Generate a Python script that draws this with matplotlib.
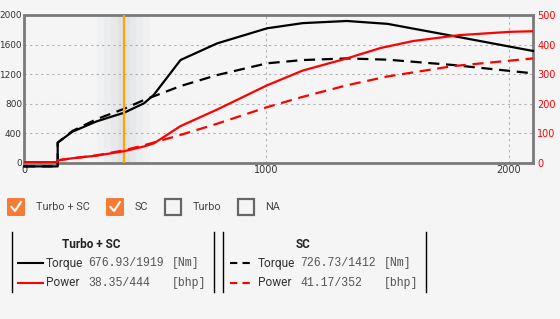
import matplotlib
matplotlib.use("Agg")
import matplotlib.pyplot as plt
from matplotlib.patches import Rectangle, FancyBboxPatch
from matplotlib.lines import Line2D

# ---- data ----
rpm_ts = [0, 139, 139, 200, 300, 413, 495, 535, 646, 797, 1003, 1150, 1332, 1500, 1770, 2100]
torque_ts = [-50, -50, 272, 420, 560, 677, 804, 917, 1391, 1616, 1820, 1890, 1919, 1880, 1716, 1513]
rpm_ts_p = [0, 139, 139, 200, 300, 413, 495, 537, 646, 797, 1003, 1150, 1332, 1470, 1606, 1798, 2004, 2100]
power_ts = [2, 2, 8, 15, 24, 39, 55, 66, 124, 180, 262, 312, 353, 388, 412, 432, 443, 445]

rpm_sc = [0, 139, 139, 200, 300, 413, 495, 646, 797, 1003, 1150, 1332, 1500, 1770, 2100]
torque_sc = [-50, -50, 272, 430, 590, 730, 849, 1038, 1187, 1346, 1390, 1412, 1395, 1323, 1210]
power_sc = [2, 2, 8, 15, 25, 42, 59, 94, 132, 188, 223, 262, 292, 327, 353]

x_ticks = [0, 1000, 2000]
torque_ticks = [0, 400, 800, 1200, 1600, 2000]
power_ticks = [0, 100, 200, 300, 400, 500]
cursor_rpm = 411

checkbox_labels = ["Turbo + SC", "SC", "Turbo", "NA"]
checkbox_checked = [True, True, False, False]

legend_groups = ["Turbo + SC", "SC"]
legend_torque = ["676.93/1919", "726.73/1412"]
legend_power = ["38.35/444", "41.17/352"]

BG = "#f5f5f5"
W, H = 560, 319
fig = plt.figure(figsize=(W / 100, H / 100), dpi=100, facecolor=BG)

def fx(px):
    return px / W

def fy(py):
    return 1 - py / H

ax = fig.add_axes([fx(24), fy(162.7), fx(533 - 24), (162.7 - 15) / H])
ax.set_facecolor(BG)
ax.set_xlim(0, 2100)
ax.set_ylim(0, 2000)
ax.set_xticks(x_ticks)
ax.set_yticks(torque_ticks)
ax.grid(True, color="#b0b0b0", linestyle=(0, (2, 3)), linewidth=0.8)
ax.tick_params(axis="y", labelsize=6.4, length=0, pad=1.5, colors="#333")
ax.tick_params(axis="x", labelsize=7, length=0, pad=2, colors="#333")
for s in ax.spines.values():
    s.set_color("#7a7a7a")
    s.set_linewidth(2)
ax.spines["left"].set_linestyle((0, (1, 1)))

# cursor shade
for w, a in [(110, 0.03), (80, 0.04), (50, 0.05), (25, 0.05)]:
    ax.axvspan(cursor_rpm - w, cursor_rpm + w, color="#8090a0", alpha=a, lw=0)

ax.plot(rpm_ts, torque_ts, color="black", lw=1.6, clip_on=False, zorder=3)
ax.plot(rpm_sc, torque_sc, color="black", lw=1.6, ls=(0, (5, 3)), clip_on=False, zorder=3)
ax.axvline(cursor_rpm, color="#FFA500", lw=1.6, zorder=4)

ax2 = ax.twinx()
ax2.set_ylim(0, 500)
ax2.set_yticks(power_ticks)
ax2.tick_params(labelsize=7, length=0, pad=3, colors="red")
for s in ax2.spines.values():
    s.set_visible(False)
ax2.plot(rpm_ts_p, power_ts, color="red", lw=1.6, zorder=3)
ax2.plot(rpm_sc, power_sc, color="red", lw=1.6, ls=(0, (5, 3)), zorder=3)

# ---- checkboxes ----
box_x = [7, 106, 164, 237]
text_x = [36, 135, 193, 265]
for bx, tx, lab, chk in zip(box_x, text_x, checkbox_labels, checkbox_checked):
    if chk:
        r = FancyBboxPatch((fx(bx), fy(216)), fx(18), 18 / H,
                           boxstyle="round,pad=0,rounding_size=0.003",
                           transform=fig.transFigure, facecolor="#F57C35",
                           edgecolor="#F57C35", lw=0)
        fig.patches.append(r)
        fig.lines.append(Line2D([fx(bx + 4.5), fx(bx + 8), fx(bx + 14)],
                                [fy(207), fy(211), fy(202)],
                                transform=fig.transFigure, color="white", lw=1.5))
    else:
        r = Rectangle((fx(bx + 1), fy(215)), fx(16), 16 / H,
                      transform=fig.transFigure, facecolor="none",
                      edgecolor="#666666", lw=1.6)
        fig.patches.append(r)
    fig.text(fx(tx), fy(207), lab, fontsize=7.8, family="Roboto",
             color="#444", va="center", ha="left")

# ---- legend boxes ----
for x0 in [12, 214, 223, 426]:
    fig.lines.append(Line2D([fx(x0), fx(x0)], [fy(232), fy(292)],
                            transform=fig.transFigure, color="black", lw=1.0))

offsets = [0, 212]
dash = [None, (0, (3.5, 2.5))]
for off, grp, tq, pw, d in zip(offsets, legend_groups, legend_torque, legend_power, dash):
    cx = 91 if off == 0 else 303
    fig.text(fx(cx), fy(244), grp, fontsize=8.5, family="Roboto", weight="bold",
             color="#222", ha="center", va="center")
    for yy, col, name, val, unit in [(263, "black", "Torque", tq, "[Nm]"),
                                     (283, "red", "Power", pw, "[bhp]")]:
        ln = Line2D([fx(18 + off), fx(43 + off)], [fy(yy), fy(yy)],
                    transform=fig.transFigure, color=col, lw=1.5)
        if d is not None:
            ln.set_linestyle(d)
        fig.lines.append(ln)
        fig.text(fx(46 + off), fy(yy), name, fontsize=8.6, family="Roboto",
                 color="#333", va="center", ha="left")
        fig.text(fx(88 + off), fy(yy), val, fontsize=8.3, family="Liberation Mono",
                 color="#555", va="center", ha="left")
        fig.text(fx(172 + off), fy(yy), unit, fontsize=8.3, family="Liberation Mono",
                 color="#555", va="center", ha="left")

fig.savefig("out.png", dpi=100, facecolor=BG)
